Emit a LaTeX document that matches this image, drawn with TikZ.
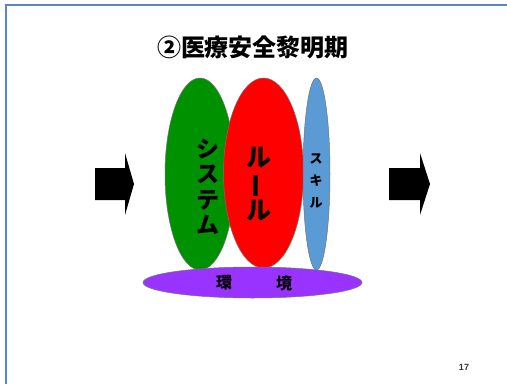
\documentclass[tikz,border=0pt]{standalone}
\usepackage{fontspec}
\newfontfamily\cjk{Noto Sans CJK JP}
\setmainfont{Liberation Sans}
\definecolor{frameblue}{HTML}{5A85C5}
\definecolor{sysgreen}{HTML}{009100}
\definecolor{rulered}{HTML}{FF0000}
\definecolor{skillblue}{HTML}{5B9BD5}
\definecolor{envpurple}{HTML}{9933FF}
\tikzset{
  blob/.style={draw=black!55, line width=0.5pt},
  vtext/.style={align=center, inner sep=0pt, text=black},
  bigarrow/.style={fill=black, draw=none}
}
\begin{document}
\begin{tikzpicture}[x=1pt,y=-1pt]
\useasboundingbox (0,0) rectangle (507,384);
\fill[white] (0,0) rectangle (507,384);
% frame
\draw[frameblue, line width=1.6pt] (6,384) -- (6,5) -- (507,5);
% title
\node[font=\cjk\bfseries\fontsize{24}{26}\selectfont, inner sep=0pt] (title) at (253,47) {②医療安全黎明期};
% ellipses
\path[blob, fill=sysgreen] (200,174) ellipse [x radius=35, y radius=96];
\path[blob, fill=rulered] (263.5,173) ellipse [x radius=40, y radius=95];
\path[blob, fill=skillblue] (316.5,174) ellipse [x radius=13.5, y radius=96];
\path[blob, fill=envpurple] (252.5,282.5) ellipse [x radius=109.5, y radius=15.5];
% texts
\node[vtext, font=\cjk\bfseries\fontsize{23}{25.5}\selectfont] (sys) at (208,187) {シ\\ス\\テ\\ム};
\node[vtext, font=\cjk\bfseries\fontsize{25}{25.5}\selectfont] (rule) at (259,184) {ル\\\rotatebox[origin=c]{90}{ー}\\ル};
\node[vtext, font=\cjk\bfseries\fontsize{13}{22}\selectfont] (skill) at (316,181) {ス\\キ\\ル};
\node[vtext, font=\cjk\bfseries\fontsize{16}{18}\selectfont] (env1) at (224,283) {環};
\node[vtext, font=\cjk\bfseries\fontsize{16}{18}\selectfont] (env2) at (284,283) {境};
% arrows
\fill[bigarrow] (95,168) -- (125,168) -- (125,153) -- (134,184) -- (125,215) -- (125,200) -- (95,200) -- cycle;
\fill[bigarrow] (389,168) -- (420,168) -- (420,153) -- (430,184) -- (420,215) -- (420,200) -- (389,200) -- cycle;
% page number
\node[font=\bfseries\fontsize{9}{10}\selectfont, text=black!80, inner sep=0pt] (pg) at (464,367) {17};
\end{tikzpicture}
\end{document}
